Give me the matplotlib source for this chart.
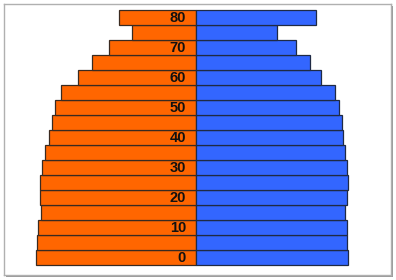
import matplotlib

matplotlib.use("Agg")
import matplotlib.pyplot as plt
from matplotlib.patches import Rectangle

# age groups (5-year steps) and the two sides of the pyramid
ages = [0, 5, 10, 15, 20, 25, 30, 35, 40, 45, 50, 55, 60, 65, 70, 75, 80]
left = [160, 159, 157.7, 155.3, 156, 156, 153.7, 150.7, 147, 144.3, 141.3,
        134.7, 117.7, 103.7, 87, 64, 76.7]
right = [152.3, 151.3, 150.7, 149.3, 150.7, 151.7, 150.7, 149.3, 147.3, 145.7,
         143.3, 139.3, 125.3, 113.7, 100.3, 81.3, 120]
label_ages = [0, 10, 20, 30, 40, 50, 60, 70, 80]

W, H = 396, 280
fig = plt.figure(figsize=(W / 100, H / 100), dpi=100)
ax = fig.add_axes([4 / W, 5 / H, 387 / W, 271 / H])

# drop shadow of the frame
fig.patches.append(Rectangle((6 / W, 3 / H), 387 / W, 271 / H, transform=fig.transFigure,
                             facecolor="#9a9a9a", edgecolor="none", zorder=-2))
fig.patches.append(Rectangle((4 / W, 5 / H), 387 / W, 271 / H, transform=fig.transFigure,
                             facecolor="white", edgecolor="none", zorder=-1))
ax.set_facecolor("none")

ax.barh(ages, [-v for v in left], height=5, align="center", color="#FF6600",
        edgecolor="#3a2a20", lw=0.9)
ax.barh(ages, right, height=5, align="center", color="#3366FF",
        edgecolor="#1f2a44", lw=0.9)

for a in label_ages:
    ax.text(-10, a, str(a), ha="right", va="center", fontsize=10.5,
            fontweight="bold", family="Liberation Sans", color="#111")

ax.set_xlim(-192, 195)
ax.set_ylim(-5.8, 84.5)
ax.set_xticks([])
ax.set_yticks([])
for s in ax.spines.values():
    s.set_color("#b0b0b0")
    s.set_linewidth(1)

fig.savefig("out.png", dpi=100)
